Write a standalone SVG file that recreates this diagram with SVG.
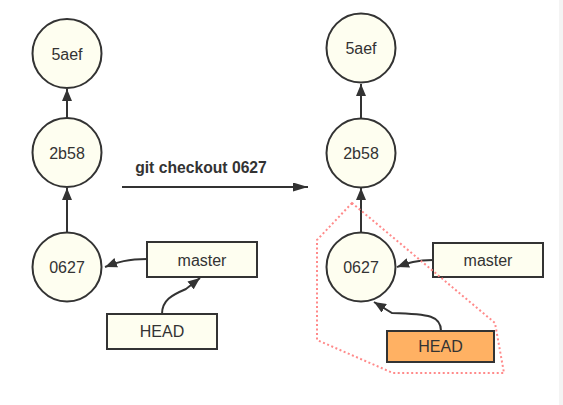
<svg xmlns="http://www.w3.org/2000/svg" width="563" height="405" viewBox="0 0 563 405">
<defs>
<marker id="ah" viewBox="0 0 12 10" markerWidth="12" markerHeight="10" refX="12" refY="5" orient="auto" markerUnits="userSpaceOnUse">
<path d="M0,0 L12,5 L0,10 z" fill="#333"/>
</marker>
<marker id="ah2" viewBox="0 0 15 9" markerWidth="15" markerHeight="9" refX="15" refY="4.5" orient="auto" markerUnits="userSpaceOnUse">
<path d="M0,0 L15,4.5 L0,9 z" fill="#333"/>
</marker>
</defs>
<style>
.c{fill:#fefef0;stroke:#333;stroke-width:2}
.b{fill:#fefef0;stroke:#333;stroke-width:2}
.h{fill:#ffb163;stroke:#333;stroke-width:2}
.t{font-family:"Liberation Sans",Arial,sans-serif;font-size:16px;fill:#333;text-anchor:middle}
.e{fill:none;stroke:#333;stroke-width:2;marker-end:url(#ah)}
</style>
<rect x="0" y="0" width="563" height="405" fill="#fff"/>
<rect x="559" y="0" width="4" height="405" fill="#f4f4f4"/>
<g id="connectors">
<path class="e" d="M67,118 L67,89"/>
<path class="e" d="M67,232 L67,188"/>
<path class="e" d="M147,259 C128,259 118,262 105,267"/>
<path class="e" d="M162,314 C162,300 172,295 186,289 L200,278"/>
<path d="M122,187 L308,187" fill="none" stroke="#333" stroke-width="2" marker-end="url(#ah2)"/>
<path class="e" d="M361,118 L361,84"/>
<path class="e" d="M361,232 L361,188"/>
<path class="e" d="M433,260 C416,260 408,263 397,267"/>
<path class="e" d="M441,331 C441,316 430,314 392,313 L374,302"/>
</g>
<g id="git-checkout-label">
<text x="201" y="173" font-family="Liberation Sans,Arial,sans-serif" font-size="15.7" font-weight="bold" fill="#333" text-anchor="middle">git checkout 0627</text>
</g>
<g id="left-5aef"><circle class="c" cx="67" cy="53.5" r="34.5"/><text class="t" x="67" y="59.5">5aef</text></g>
<g id="left-2b58"><circle class="c" cx="67" cy="152.5" r="34.5"/><text class="t" x="67" y="158.5">2b58</text></g>
<g id="left-0627"><circle class="c" cx="67" cy="267" r="34.5"/><text class="t" x="67" y="273">0627</text></g>
<g id="left-master"><rect class="b" x="147" y="242" width="110" height="35"/><text class="t" x="202" y="265.5">master</text></g>
<g id="left-head"><rect class="b" x="107" y="314" width="110" height="35"/><text class="t" x="162" y="337">HEAD</text></g>
<g id="right-5aef"><circle class="c" cx="361" cy="48" r="34.5"/><text class="t" x="361" y="54">5aef</text></g>
<g id="right-2b58"><circle class="c" cx="361" cy="153" r="34.5"/><text class="t" x="361" y="159">2b58</text></g>
<g id="right-0627"><circle class="c" cx="361" cy="267" r="34.5"/><text class="t" x="361" y="273">0627</text></g>
<g id="right-master"><rect class="b" x="433" y="243" width="110" height="34"/><text class="t" x="488" y="265.5">master</text></g>
<g id="right-head"><rect class="h" x="387" y="331" width="107" height="31"/><text class="t" x="440.5" y="352">HEAD</text></g>
<g id="selection">
<polygon points="352,203 317,240 317,340 393,373 504,373 495,323" fill="none" stroke="#ff8a8a" stroke-width="2" stroke-dasharray="2,2.5"/>
</g>
</svg>
